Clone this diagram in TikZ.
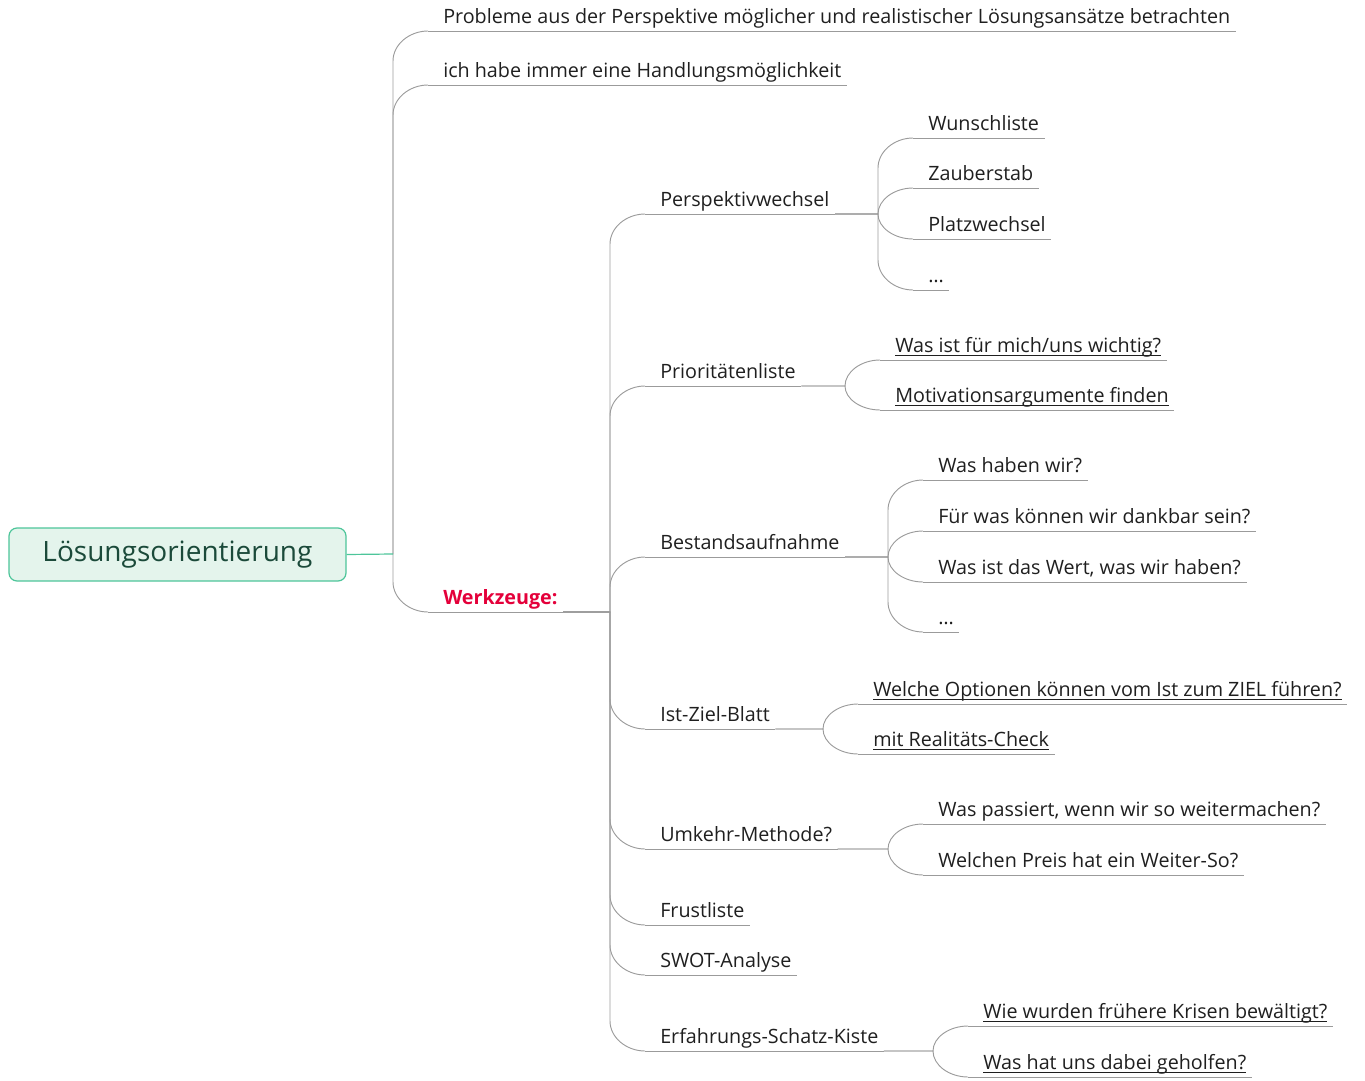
\documentclass[tikz,border=0pt]{standalone}
\usepackage{fontspec}
\setmainfont{Open Sans}
\usepackage{tikz}
\usetikzlibrary{calc}
\newsavebox\lsbox
\newcommand\lsul[1]{\sbox\lsbox{#1}\rlap{\rule[-2.4pt]{\wd\lsbox}{0.8pt}}\usebox\lsbox}
\definecolor{lsink}{RGB}{31,31,31}
\definecolor{lswire}{RGB}{155,155,155}
\definecolor{lsfill}{RGB}{228,244,236}
\definecolor{lsedge}{RGB}{77,197,154}
\definecolor{lsroot}{RGB}{27,74,58}
\definecolor{lsred}{RGB}{228,0,58}

\begin{document}
\begin{tikzpicture}[x=0.75pt, y=-0.75pt,
    root/.style={draw=lsedge, fill=lsfill, line width=0.9pt, rounded corners=6pt,
      minimum width=252.75pt, minimum height=39.75pt, text=lsroot,
      font=\fontsize{21}{24}\selectfont},
    wire/.style={draw=lswire, line width=0.7pt},
    rootlink/.style={draw=lsedge, line width=0.9pt},
    item/.style={anchor=south west, inner xsep=0pt, inner ysep=0pt, text=lsink,
      text height=11pt, text depth=5.2pt, font=\fontsize{14.8}{17}\selectfont,
      execute at begin node=\hspace*{11.25pt}, execute at end node=\hspace*{4pt},
      append after command={(\tikzlastnode.south west) edge[wire] (\tikzlastnode.south east)}},
    tool/.style={item, text=lsred, font=\fontsize{14.8}{17}\selectfont\bfseries},
    curvy/.style={to path={let \p1=(\tikztostart), \p2=(\tikztotarget),
      \n1={min(22.5pt,abs(\y1-\y2))*(\y1>\y2 ? 1 : -1)} in
      -- (\x2-26.25pt,\y1) -- (\x2-26.25pt,\y2+\n1)
      .. controls (\x2-26.25pt,\y2+0.45*\n1) and (\x2-14pt,\y2) .. (\tikztotarget)}}
  ]
  \useasboundingbox (0,0) rectangle (1365,1081);

  % root
  \node[root] (root) at (177.5,554.5) {Lösungsorientierung};
  \coordinate (hub) at (393,554);

  % first level
  \node[item] (probleme) at (428,31) {Probleme aus der Perspektive möglicher und realistischer Lösungsansätze betrachten};
  \node[item] (handlung) at (428,85) {ich habe immer eine Handlungsmöglichkeit};
  \node[tool] (werkzeuge) at (428,612) {Werkzeuge:};

  % tools
  \node[item] (persp) at (645,214) {Perspektivwechsel};
  \node[item] (prio) at (645,386) {Prioritätenliste};
  \node[item] (bestand) at (645,557) {Bestandsaufnahme};
  \node[item] (istziel) at (645,729) {Ist-Ziel-Blatt};
  \node[item] (umkehr) at (645,849) {Umkehr-Methode?};
  \node[item] (frust) at (645,925) {Frustliste};
  \node[item] (swot) at (645,975) {SWOT-Analyse};
  \node[item] (schatz) at (645,1051) {Erfahrungs-Schatz-Kiste};

  % leaves
  \node[item] (wunsch) at (913,138) {Wunschliste};
  \node[item] (zauber) at (913,188) {Zauberstab};
  \node[item] (platz) at (913,239) {Platzwechsel};
  \node[item] (pdots) at (913,290) {…};

  \node[item] (wichtig) at (880,360) {\lsul{Was ist für mich/uns wichtig?}};
  \node[item] (motiv) at (880,410) {\lsul{Motivationsargumente finden}};

  \node[item] (haben) at (923,480) {Was haben wir?};
  \node[item] (dankbar) at (923,531) {Für was können wir dankbar sein?};
  \node[item] (wert) at (923,582) {Was ist das Wert, was wir haben?};
  \node[item] (bdots) at (923,632) {…};

  \node[item] (optionen) at (858,704) {\lsul{Welche Optionen können vom Ist zum ZIEL führen?}};
  \node[item] (check) at (858,754) {\lsul{mit Realitäts-Check}};

  \node[item] (weiter) at (923,824) {Was passiert, wenn wir so weitermachen?};
  \node[item] (preis) at (923,875) {Welchen Preis hat ein Weiter-So?};

  \node[item] (krisen) at (968,1026) {\lsul{Wie wurden frühere Krisen bewältigt?}};
  \node[item] (geholfen) at (968,1077) {\lsul{Was hat uns dabei geholfen?}};

  % connectors
  \draw[wire] (hub) to[curvy] (probleme.south west);
  \draw[wire] (hub) to[curvy] (handlung.south west);
  \draw[wire] (hub) to[curvy] (werkzeuge.south west);
  \draw[rootlink] (root.east) -- (hub);

  \draw[wire] (werkzeuge.south east) to[curvy] (persp.south west);
  \draw[wire] (werkzeuge.south east) to[curvy] (prio.south west);
  \draw[wire] (werkzeuge.south east) to[curvy] (bestand.south west);
  \draw[wire] (werkzeuge.south east) to[curvy] (istziel.south west);
  \draw[wire] (werkzeuge.south east) to[curvy] (umkehr.south west);
  \draw[wire] (werkzeuge.south east) to[curvy] (frust.south west);
  \draw[wire] (werkzeuge.south east) to[curvy] (swot.south west);
  \draw[wire] (werkzeuge.south east) to[curvy] (schatz.south west);

  \draw[wire] (persp.south east) to[curvy] (wunsch.south west);
  \draw[wire] (persp.south east) to[curvy] (zauber.south west);
  \draw[wire] (persp.south east) to[curvy] (platz.south west);
  \draw[wire] (persp.south east) to[curvy] (pdots.south west);

  \draw[wire] (prio.south east) to[curvy] (wichtig.south west);
  \draw[wire] (prio.south east) to[curvy] (motiv.south west);

  \draw[wire] (bestand.south east) to[curvy] (haben.south west);
  \draw[wire] (bestand.south east) to[curvy] (dankbar.south west);
  \draw[wire] (bestand.south east) to[curvy] (wert.south west);
  \draw[wire] (bestand.south east) to[curvy] (bdots.south west);

  \draw[wire] (istziel.south east) to[curvy] (optionen.south west);
  \draw[wire] (istziel.south east) to[curvy] (check.south west);

  \draw[wire] (umkehr.south east) to[curvy] (weiter.south west);
  \draw[wire] (umkehr.south east) to[curvy] (preis.south west);

  \draw[wire] (schatz.south east) to[curvy] (krisen.south west);
  \draw[wire] (schatz.south east) to[curvy] (geholfen.south west);
\end{tikzpicture}
\end{document}
